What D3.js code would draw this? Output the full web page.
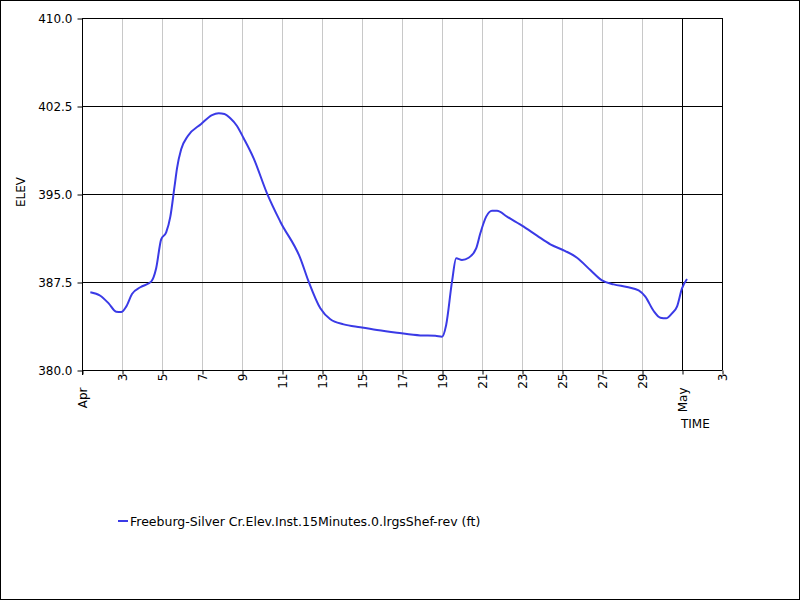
<!DOCTYPE html>
<html><head><meta charset="utf-8">
<script src="https://cdn.jsdelivr.net/npm/d3@7"></script>
<style>body{margin:0;background:#fff}svg{display:block}text{font-family:"DejaVu Sans",sans-serif;font-size:12px;fill:#000}</style>
</head><body>
<svg id="c" width="800" height="600"></svg>
<script>
const times = ["2024-04-01T10:00","2024-04-01T22:00","2024-04-02T08:00","2024-04-02T17:00","2024-04-02T23:00","2024-04-03T05:00","2024-04-03T12:00","2024-04-03T22:00","2024-04-04T11:00","2024-04-04T17:00","2024-04-04T23:00","2024-04-05T05:00","2024-04-05T10:00","2024-04-05T15:00","2024-04-05T18:00","2024-04-05T23:00","2024-04-06T07:00","2024-04-06T23:00","2024-04-07T12:00","2024-04-07T20:00","2024-04-08T03:00","2024-04-08T10:00","2024-04-08T18:00","2024-04-09T02:00","2024-04-09T14:00","2024-04-10T06:00","2024-04-10T22:00","2024-04-11T22:00","2024-04-12T08:00","2024-04-12T22:00","2024-04-13T10:00","2024-04-14T02:00","2024-04-14T22:00","2024-04-15T18:00","2024-04-16T18:00","2024-04-17T22:00","2024-04-18T16:00","2024-04-19T00:00","2024-04-19T05:00","2024-04-19T12:00","2024-04-19T17:00","2024-04-20T00:00","2024-04-20T08:00","2024-04-20T17:00","2024-04-20T22:00","2024-04-21T05:00","2024-04-21T12:00","2024-04-21T18:00","2024-04-22T06:00","2024-04-23T00:00","2024-04-23T18:00","2024-04-24T10:00","2024-04-25T04:00","2024-04-25T18:00","2024-04-26T10:00","2024-04-27T00:00","2024-04-27T14:00","2024-04-28T06:00","2024-04-28T20:00","2024-04-29T04:00","2024-04-29T14:00","2024-04-29T22:00","2024-04-30T05:00","2024-04-30T12:00","2024-04-30T18:00","2024-05-01T00:00","2024-05-01T06:00"];
const elev = [386.62,386.33,385.68,384.97,384.94,385.4,386.48,387.05,387.53,388.67,391.14,391.73,393.07,395.62,397.19,398.81,399.94,400.97,401.73,401.88,401.82,401.45,400.8,399.75,398.04,395.06,392.64,389.52,387.53,385.26,384.32,383.89,383.64,383.41,383.18,382.95,382.92,382.84,383.84,387.53,389.52,389.38,389.57,390.37,391.65,393.07,393.58,393.58,393.07,392.3,391.45,390.71,390.14,389.57,388.52,387.64,387.3,387.07,386.79,386.25,385.03,384.46,384.4,384.83,385.4,386.96,387.76];
const yTicks = [380.0, 387.5, 395.0, 402.5, 410.0];
const seriesName = "Freeburg-Silver Cr.Elev.Inst.15Minutes.0.lrgsShef-rev (ft)";
const yLabel = "ELEV", xLabel = "TIME";
const xStart = "2024-04-01T00:00", xEnd = "2024-05-03T00:00";

const parse = d3.utcParse("%Y-%m-%dT%H:%M");
const svg = d3.select("#c");
const L = 82, R = 722, T = 18, B = 370;
const x = d3.scaleUtc().domain([parse(xStart), parse(xEnd)]).range([L, R]);
const y = d3.scaleLinear().domain([380, 410]).range([B, T]);

svg.append("rect").attr("x",0.5).attr("y",0.5).attr("width",799).attr("height",599).attr("fill","#fff").attr("stroke","#000");

const dayTicks = d3.utcDay.range(parse(xStart), d3.utcDay.offset(parse(xEnd),1)).filter((d,i)=>i%2===0 || d.getUTCDate()===1);
const ticks = dayTicks.filter(d => d <= parse(xEnd));

// vertical grid
svg.append("g").selectAll("line").data(ticks.filter(d=>+d!==+parse(xStart) && +d!==+parse(xEnd))).join("line")
  .attr("x1",d=>Math.round(x(d))+0.5).attr("x2",d=>Math.round(x(d))+0.5).attr("y1",T).attr("y2",B)
  .attr("stroke",d=>d.getUTCDate()===1?"#000":"#c8c8c8").attr("stroke-width",1);
// horizontal grid
svg.append("g").selectAll("line").data(yTicks).join("line")
  .attr("x1",L).attr("x2",R).attr("y1",d=>Math.round(y(d))+0.5).attr("y2",d=>Math.round(y(d))+0.5).attr("stroke","#000");
// frame
svg.append("line").attr("x1",L+0.5).attr("x2",L+0.5).attr("y1",T).attr("y2",B+5).attr("stroke","#000");
svg.append("line").attr("x1",R+0.5).attr("x2",R+0.5).attr("y1",T).attr("y2",B).attr("stroke","#000");

// y axis
const ya = svg.append("g").attr("transform",`translate(${L+0.5},0.5)`)
  .call(d3.axisLeft(y).tickValues(yTicks).tickFormat(d3.format(".1f")).tickSize(5).tickPadding(5));
ya.select(".domain").remove();
ya.selectAll("line").attr("stroke","#000");
ya.selectAll("text").attr("font-family","DejaVu Sans").attr("font-size",12).attr("fill","#000");

// x axis
const xa = svg.append("g").attr("transform",`translate(0.5,${B+0.5})`)
  .call(d3.axisBottom(x).tickValues(ticks).tickFormat(d=>"").tickSize(4));
xa.select(".domain").attr("d",`M${L},0H${R}`).attr("stroke","#000");
xa.selectAll("line").attr("stroke","#000");
xa.selectAll(".tick").each(function(d){
  const isMonth = d.getUTCDate()===1;
  d3.select(this).append("text")
    .attr("transform",`translate(4,${isMonth?17:3}) rotate(-90)`)
    .attr("text-anchor","end").attr("fill","#000")
    .attr("font-family","DejaVu Sans").attr("font-size",12)
    .text(isMonth ? d3.utcFormat("%b")(d) : d3.utcFormat("%-d")(d));
});

// series line
const data = times.map((t,i)=>({t:parse(t),v:elev[i]}));
svg.append("path").datum(data)
  .attr("d", d3.line().x(d=>x(d.t)).y(d=>y(d.v)).curve(d3.curveMonotoneX))
  .attr("fill","none").attr("stroke","#3a3ae6").attr("stroke-width",2);

// labels
svg.append("text").attr("transform","translate(25,192) rotate(-90)").attr("text-anchor","middle").text(yLabel);
svg.append("text").attr("x",681).attr("y",428).text(xLabel);

// legend
svg.append("line").attr("x1",118).attr("x2",128).attr("y1",521).attr("y2",521).attr("stroke","#3a3ae6").attr("stroke-width",2);
svg.append("text").attr("x",130).attr("y",526).attr("font-size",12.5).style("font-size","12.5px").text(seriesName);
</script>
</body></html>
